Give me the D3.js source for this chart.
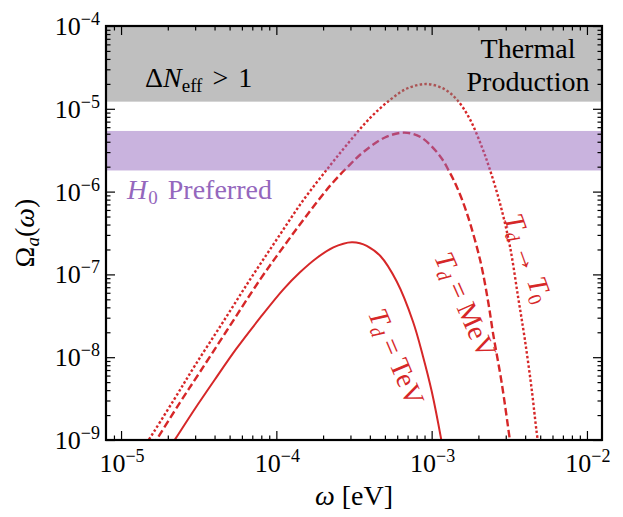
<!DOCTYPE html>
<html><head><meta charset="utf-8">
<script src="https://cdn.jsdelivr.net/npm/d3@7"></script>
<style>
body{margin:0;background:#fff}
svg{display:block}
</style>
</head><body>
<svg id="chart" width="623" height="517"></svg>
<script>
// ---- data ----
const xMajorTicks = [1e-5, 1e-4, 1e-3, 1e-2];
const xTickExponents = ["−5", "−4", "−3", "−2"];
const yMajorTicks = [1e-9, 1e-8, 1e-7, 1e-6, 1e-5, 1e-4];
const yTickExponents = ["−9", "−8", "−7", "−6", "−5", "−4"];

const bandThermal = [1.22e-5, 1e-4];   // Delta N_eff > 1 / Thermal Production
const bandH0 = [1.8e-6, 5.4e-6];       // H0 preferred

// T_d -> T_0 (dotted)
const omegaT0 = [1.40e-5, 1.505e-5, 2.2e-5, 3.0e-5, 4.5e-5, 6.78e-5, 1.0e-4, 1.5e-4, 2.22e-4, 3.0e-4, 4.0e-4, 5.39e-4, 7.0e-4, 9.29e-4, 1.2e-3, 1.449e-3, 1.762e-3, 2.10e-3, 2.37e-3, 2.75e-3, 3.19e-3, 3.61e-3, 3.98e-3, 4.40e-3, 4.73e-3, 4.90e-3];
const OmegaT0 = [8.2e-10, 1.0e-9, 3.1e-9, 8.0e-9, 2.6e-8, 8.7e-8, 2.6e-7, 8.0e-7, 2.07e-6, 4.15e-6, 7.7e-6, 1.28e-5, 1.77e-5, 1.99e-5, 1.74e-5, 1.3e-5, 7.5e-6, 3.5e-6, 1.85e-6, 7.3e-7, 2.2e-7, 5.2e-8, 1.65e-8, 4.2e-9, 1.3e-9, 8.0e-10];

// T_d = MeV (dashed)
const omegaMeV = [1.6e-5, 1.705e-5, 2.4e-5, 3.2e-5, 4.8e-5, 7.87e-5, 1.1e-4, 1.55e-4, 2.22e-4, 3.0e-4, 3.63e-4, 5.0e-4, 6.64e-4, 8.5e-4, 1.13e-3, 1.312e-3, 1.449e-3, 1.68e-3, 2.05e-3, 2.31e-3, 2.49e-3, 2.82e-3, 3.19e-3, 3.3e-3];
const OmegaMeV = [8.5e-10, 1.03e-9, 2.85e-9, 6.5e-9, 2.1e-8, 8.7e-8, 2.1e-7, 5.0e-7, 1.18e-6, 2.15e-6, 3.0e-6, 4.5e-6, 5.15e-6, 4.55e-6, 2.7e-6, 1.68e-6, 1.15e-6, 5.6e-7, 1.5e-7, 4.7e-8, 1.9e-8, 5.0e-9, 1.0e-9, 6.5e-10];

// T_d = TeV (solid)
const omegaTeV = [2.1e-5, 2.26e-5, 3.0e-5, 4.0e-5, 5.5e-5, 7.87e-5, 1.11e-4, 1.42e-4, 1.82e-4, 2.33e-4, 2.7e-4, 3.06e-4, 3.45e-4, 3.82e-4, 4.66e-4, 5.96e-4, 7.58e-4, 8.79e-4, 1.0e-3, 1.16e-3, 1.2e-3];
const OmegaTeV = [8.6e-10, 1.06e-9, 2.4e-9, 5.3e-9, 1.25e-8, 3.0e-8, 6.6e-8, 1.06e-7, 1.58e-7, 2.12e-7, 2.35e-7, 2.44e-7, 2.38e-7, 2.21e-7, 1.68e-7, 8.2e-8, 2.7e-8, 1.03e-8, 3.9e-9, 9.5e-10, 6.5e-10];

// ---- layout ----
const FONT = '"Liberation Serif"';
const L = 106, R = 602, T = 26, B = 440;
const RED = "#d62728", PURPLE = "#9467bd";
const svg = d3.select("#chart");
const x = d3.scaleLog().domain([8e-6, 1.25e-2]).range([L, R]);
const y = d3.scaleLog().domain([1e-9, 1e-4]).range([B, T]);

svg.append("defs").append("clipPath").attr("id", "clip")
  .append("rect").attr("x", L).attr("y", T).attr("width", R - L).attr("height", B - T);

const plot = svg.append("g").attr("clip-path", "url(#clip)");

const line = d3.line().x(d => x(d[0])).y(d => y(d[1])).curve(d3.curveCatmullRom.alpha(0.5));
const series = [
  {w: omegaTeV, v: OmegaTeV, dash: null, width: 2},
  {w: omegaMeV, v: OmegaMeV, dash: "7.5,3.5", width: 2.4},
  {w: omegaT0, v: OmegaT0, dash: "2.5,2.2", width: 2.4}
];
series.forEach(s => {
  plot.append("path").datum(d3.zip(s.w, s.v))
    .attr("d", line).attr("fill", "none").attr("stroke", RED)
    .attr("stroke-width", s.width).attr("stroke-dasharray", s.dash);
});

// bands (drawn over lines, semi-transparent)
plot.append("rect").attr("x", L).attr("width", R - L)
  .attr("y", y(bandThermal[1])).attr("height", y(bandThermal[0]) - y(bandThermal[1]))
  .attr("fill", "#808080").attr("fill-opacity", 0.5);
plot.append("rect").attr("x", L).attr("width", R - L)
  .attr("y", y(bandH0[1])).attr("height", y(bandH0[0]) - y(bandH0[1]))
  .attr("fill", PURPLE).attr("fill-opacity", 0.5);

// ---- ticks (inward on all four sides) ----
function minorTicks(domain) {
  const out = [];
  for (let e = -10; e <= 0; e++) for (let k = 2; k <= 9; k++) {
    const v = k * Math.pow(10, e);
    if (v > domain[0] * 1.01 && v < domain[1] * 0.99) out.push(v);
  }
  return out;
}
const xMinor = minorTicks(x.domain());
const yMinor = minorTicks(y.domain());
function drawAxis(gen, scale, vals, size, tr) {
  const g = svg.append("g").attr("transform", tr)
    .call(gen(scale).tickValues(vals).tickSize(size).tickFormat(""));
  g.select(".domain").remove();
  g.selectAll(".tick line").attr("stroke", "#000").attr("stroke-width", 1.2);
}
[[xMajorTicks, 9], [xMinor, 4.5]].forEach(([v, s]) => {
  drawAxis(d3.axisBottom, x, v, -s, `translate(0,${B})`);
  drawAxis(d3.axisTop, x, v, -s, `translate(0,${T})`);
});
[[yMajorTicks, 9], [yMinor, 4.5]].forEach(([v, s]) => {
  drawAxis(d3.axisLeft, y, v, -s, `translate(${L},0)`);
  drawAxis(d3.axisRight, y, v, -s, `translate(${R},0)`);
});

svg.append("rect").attr("x", L).attr("y", T).attr("width", R - L).attr("height", B - T)
  .attr("fill", "none").attr("stroke", "#000").attr("stroke-width", 2.2);

function txt(xp, yp, size) {
  return svg.append("text").attr("x", xp).attr("y", yp)
    .attr("font-size", size).style("font-family", FONT);
}

// tick labels
const TICK_FS = 26, SUP_FS = 18;
xMajorTicks.forEach((v, i) => {
  const t = txt(x(v) + 1, 472, TICK_FS).attr("text-anchor", "middle");
  t.append("tspan").text("10");
  t.append("tspan").attr("dy", -10).attr("font-size", SUP_FS).text(xTickExponents[i]);
});
yMajorTicks.forEach((v, i) => {
  const t = txt(100, y(v) + 9, TICK_FS).attr("text-anchor", "end");
  t.append("tspan").text("10");
  t.append("tspan").attr("dy", -10).attr("font-size", SUP_FS).text(yTickExponents[i]);
});

// axis labels
const LAB_FS = 28;
const xl = txt(354, 505, LAB_FS).attr("text-anchor", "middle");
xl.append("tspan").attr("font-style", "italic").text("ω");
xl.append("tspan").text(" [eV]");

const yl = txt(0, 0, LAB_FS).attr("transform", "translate(34,233) rotate(-90)")
  .attr("text-anchor", "middle");
yl.append("tspan").text("Ω");
yl.append("tspan").attr("font-style", "italic").attr("font-size", 19).attr("dy", 5).text("a");
yl.append("tspan").attr("dy", -5).text("(");
yl.append("tspan").attr("font-style", "italic").text("ω");
yl.append("tspan").text(")");

// band annotations
const dn = txt(145, 87, LAB_FS);
dn.append("tspan").text("Δ");
dn.append("tspan").attr("font-style", "italic").text("N");
dn.append("tspan").attr("font-size", 19).attr("dy", 5).text("eff");
dn.append("tspan").attr("dy", -5).attr("dx", 3).text(" >");
dn.append("tspan").attr("dx", 3).text(" 1");

txt(528, 58, LAB_FS).attr("text-anchor", "middle").text("Thermal");
txt(528, 91, LAB_FS).attr("text-anchor", "middle").text("Production");

const h0 = txt(127, 199, LAB_FS).attr("fill", PURPLE);
h0.append("tspan").attr("font-style", "italic").text("H");
h0.append("tspan").attr("font-size", 19).attr("dy", 5).attr("dx", 1).text("0");
h0.append("tspan").attr("dy", -5).attr("dx", 3).text(" Preferred");

// rotated curve labels
function curveLabel(cx, cy, ang) {
  return txt(0, 9, LAB_FS).attr("transform", `translate(${cx},${cy}) rotate(${ang})`)
    .attr("text-anchor", "middle").attr("fill", RED);
}
[[396, 357, 67, " = TeV"], [465, 305, 66, " = MeV"]].forEach(([cx, cy, a, rest]) => {
  const t = curveLabel(cx, cy, a);
  t.append("tspan").attr("font-style", "italic").text("T");
  t.append("tspan").attr("font-style", "italic").attr("font-size", 19).attr("dy", 5).text("d");
  t.append("tspan").attr("dy", -5).text(rest);
});
const t0 = curveLabel(528, 258, 70);
t0.append("tspan").attr("font-style", "italic").text("T");
t0.append("tspan").attr("font-style", "italic").attr("font-size", 19).attr("dy", 5).text("d");
t0.append("tspan").attr("dy", -5).text(" → ");
t0.append("tspan").attr("font-style", "italic").text("T");
t0.append("tspan").attr("font-size", 19).attr("dy", 5).text("0");
</script>
</body></html>
